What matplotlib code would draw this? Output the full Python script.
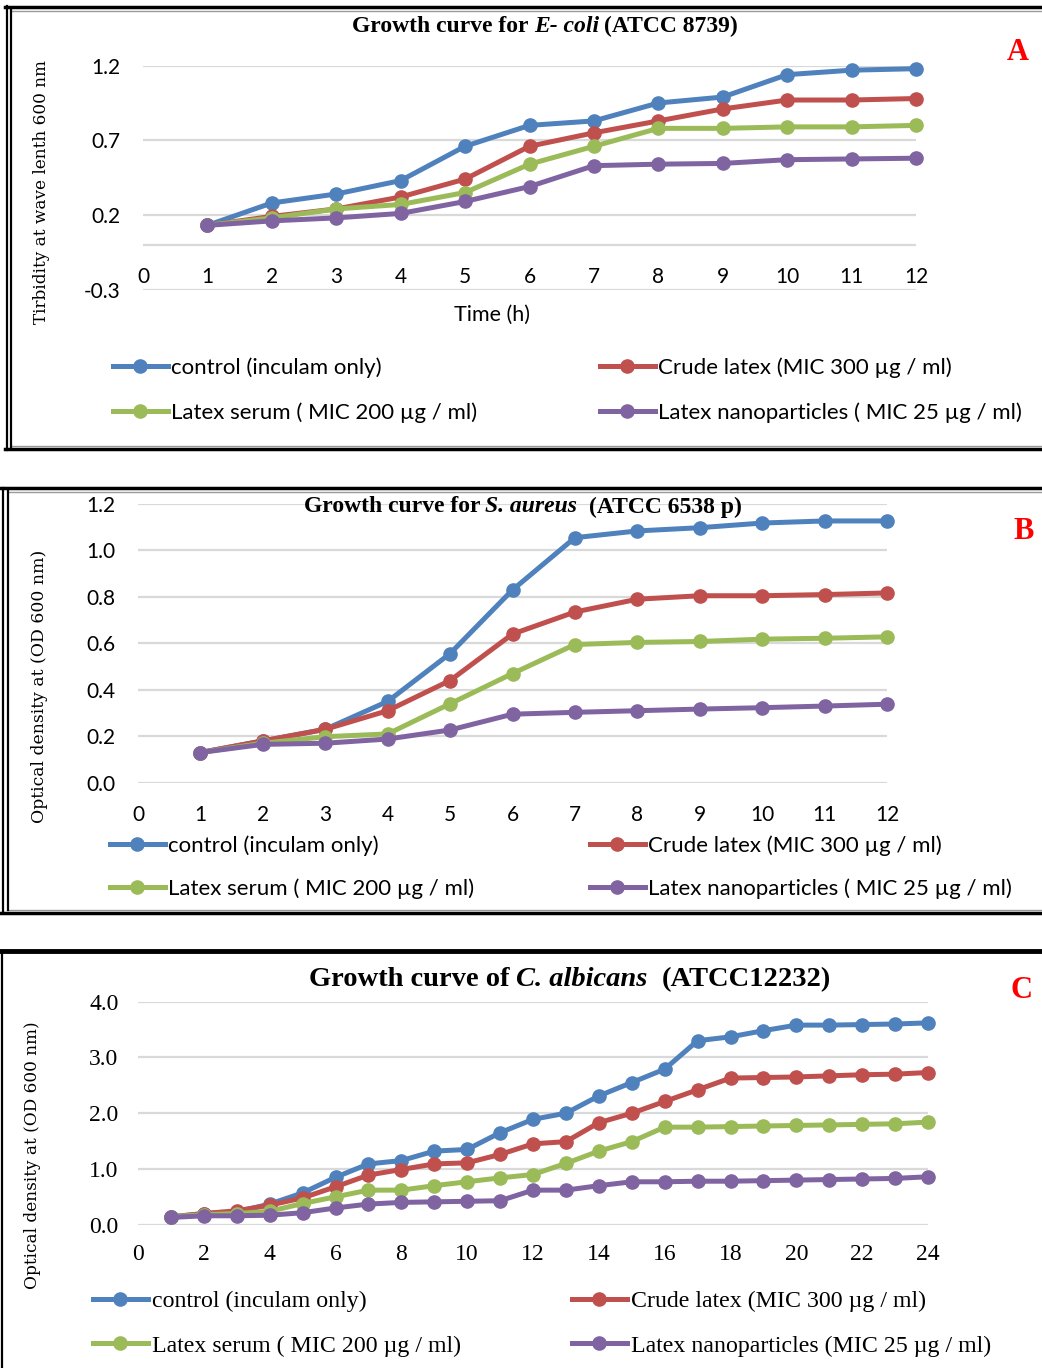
import numpy as np
import matplotlib
matplotlib.use("Agg")
import matplotlib.pyplot as plt
from matplotlib.lines import Line2D

W, H = 1042, 1368

# ---- data ----
labels = ["control (inculam only)", "Crude latex (MIC 300 µg / ml)",
          "Latex serum ( MIC 200 µg / ml)", "Latex nanoparticles ( MIC 25 µg / ml)"]
labels_c = ["control (inculam only)", "Crude latex (MIC 300 µg / ml)",
            "Latex serum ( MIC 200 µg / ml)", "Latex nanoparticles (MIC 25 µg / ml)"]
colors = ["#4f81bd", "#c0504d", "#9bbb59", "#8064a2"]

hours_ab = list(range(1, 13))
ecoli_control = [0.13, 0.28, 0.34, 0.43, 0.66, 0.80, 0.83, 0.95, 0.99, 1.14, 1.17, 1.18]
ecoli_crude = [0.13, 0.19, 0.24, 0.32, 0.44, 0.66, 0.75, 0.83, 0.91, 0.97, 0.97, 0.98]
ecoli_serum = [0.13, 0.18, 0.24, 0.27, 0.35, 0.54, 0.66, 0.78, 0.78, 0.79, 0.79, 0.80]
ecoli_nano = [0.13, 0.16, 0.18, 0.21, 0.29, 0.39, 0.53, 0.54, 0.545, 0.57, 0.575, 0.58]

saureus_control = [0.13, 0.18, 0.23, 0.35, 0.556, 0.83, 1.055, 1.084, 1.098, 1.118, 1.127, 1.127]
saureus_crude = [0.13, 0.18, 0.23, 0.31, 0.44, 0.64, 0.735, 0.79, 0.805, 0.805, 0.81, 0.817]
saureus_serum = [0.13, 0.17, 0.198, 0.21, 0.34, 0.47, 0.595, 0.604, 0.608, 0.618, 0.622, 0.628]
saureus_nano = [0.13, 0.165, 0.17, 0.188, 0.227, 0.295, 0.303, 0.31, 0.317, 0.323, 0.33, 0.338]

hours_c = list(range(1, 25))
calb_control = [0.14, 0.20, 0.23, 0.37, 0.57, 0.85, 1.09, 1.15, 1.32, 1.35, 1.65, 1.89,
                2.00, 2.31, 2.55, 2.79, 3.30, 3.37, 3.48, 3.58, 3.58, 3.59, 3.60, 3.62]
calb_crude = [0.14, 0.20, 0.25, 0.35, 0.48, 0.68, 0.89, 0.99, 1.09, 1.11, 1.26, 1.45,
              1.49, 1.83, 2.00, 2.21, 2.42, 2.63, 2.64, 2.65, 2.67, 2.69, 2.70, 2.73]
calb_serum = [0.14, 0.18, 0.20, 0.24, 0.38, 0.50, 0.62, 0.62, 0.70, 0.77, 0.84, 0.90,
              1.10, 1.32, 1.49, 1.75, 1.75, 1.76, 1.77, 1.78, 1.79, 1.80, 1.81, 1.84]
calb_nano = [0.13, 0.16, 0.16, 0.17, 0.215, 0.30, 0.37, 0.40, 0.41, 0.42, 0.43, 0.62,
             0.62, 0.70, 0.77, 0.77, 0.78, 0.78, 0.79, 0.80, 0.81, 0.82, 0.83, 0.86]

SANS = ["Lato", "DejaVu Sans"]
SERIF = ["Liberation Serif", "DejaVu Serif"]

fig = plt.figure(figsize=(W / 100, H / 100), dpi=100)


def add_ax(x0, y0, x1, y1):
    return fig.add_axes([x0 / W, 1 - y1 / H, (x1 - x0) / W, (y1 - y0) / H])


def fx(x):
    return x / W


def fy(y):
    return 1 - y / H


def hline(x0, x1, y, lw, c="black"):
    fig.add_artist(Line2D([fx(x0), fx(x1)], [fy(y), fy(y)], lw=lw, color=c))


def vline(x, y0, y1, lw, c="black"):
    fig.add_artist(Line2D([fx(x), fx(x)], [fy(y0), fy(y1)], lw=lw, color=c))


def seg_title(xc, y, parts, size, gaps):
    # parts: (text, style); gaps: px between consecutive parts
    r = fig.canvas.get_renderer()
    texts = []
    for s, st in parts:
        t = fig.text(0, fy(y), s, fontsize=size, fontweight="bold", fontstyle=st,
                     family=SERIF, va="center", ha="left")
        texts.append(t)
    ws = [t.get_window_extent(r).width for t in texts]
    total = sum(ws) + sum(gaps)
    x = xc - total / 2
    for i, (t, w) in enumerate(zip(texts, ws)):
        t.set_x(fx(x))
        x += w + (gaps[i] if i < len(gaps) else 0)


def style_ax(ax, font, size, ypad, xpad):
    for s in ax.spines.values():
        s.set_visible(False)
    ax.grid(axis="y", color="#d9d9d9", lw=1.6)
    ax.set_axisbelow(True)
    ax.tick_params(length=0, labelsize=size, pad=ypad, axis="y")
    ax.tick_params(length=0, labelsize=size, pad=xpad, axis="x")
    for lab in ax.get_xticklabels() + ax.get_yticklabels():
        lab.set_family(font)


def draw_series(ax, x, series):
    lines = []
    for ys, c in zip(series, colors):
        ln, = ax.plot(x, ys, color=c, lw=3.6, marker="o", ms=9.5, clip_on=False, zorder=3)
        lines.append(ln)
    return lines


def legends(lines, labs, left1, left2, yc, font, size, hl_px, spacing):
    for idx, left in ((0, left1), (1, left2)):
        sel = [lines[idx], lines[idx + 2]]
        sl = [labs[idx], labs[idx + 2]]
        fig.legend(sel, sl, loc="center left", bbox_to_anchor=(fx(left), fy(yc)),
                   frameon=False, borderpad=0, borderaxespad=0,
                   handlelength=hl_px / 1.389 / size, handletextpad=0.15,
                   labelspacing=spacing, prop={"family": font, "size": size})


# ---------- Panel A ----------
axA = add_ax(143, 65.7, 916, 289.5)
linesA = draw_series(axA, hours_ab, [ecoli_control, ecoli_crude, ecoli_serum, ecoli_nano])
axA.set_xlim(0, 12)
axA.set_ylim(-0.3, 1.2)
axA.set_yticks([-0.3, 0.2, 0.7, 1.2])
axA.set_yticklabels(["-0.3", "0.2", "0.7", "1.2"])
axA.set_xticks(range(0, 13))
axA.spines["bottom"].set_position(("data", 0))
axA.axhline(0, color="#d9d9d9", lw=1.6, zorder=1)
style_ax(axA, SANS, 15, 16, 16)
axA.set_xlabel("Time (h)", family=SANS, fontsize=15.5, labelpad=2)
axA.xaxis.set_label_coords(0.451, -0.07)
seg_title(545, 26, [("Growth curve for", "normal"), ("E- coli", "italic"),
                    ("(ATCC 8739)", "normal")], 17, [5, 5])
fig.text(fx(42), fy(192), "Tirbidity at wave lenth 600 nm", rotation=90,
         family="DejaVu Serif", fontsize=12.2, ha="center", va="center")
fig.text(fx(1018), fy(52), "A", color="red", fontsize=22, fontweight="bold",
         family=SERIF, ha="center", va="center")
legends(linesA, labels, 113, 600, 390, SANS, 16, 55, 1.12)

# ---------- Panel B ----------
axB = add_ax(138, 504, 887, 782.7)
linesB = draw_series(axB, hours_ab, [saureus_control, saureus_crude, saureus_serum, saureus_nano])
axB.set_xlim(0, 12)
axB.set_ylim(0, 1.2)
axB.set_yticks(np.arange(0, 1.21, 0.2))
axB.set_yticklabels(["0.0", "0.2", "0.4", "0.6", "0.8", "1.0", "1.2"])
axB.set_xticks(range(0, 13))
style_ax(axB, SANS, 15, 16, 16)
seg_title(523, 507, [("Growth curve for", "normal"), ("S. aureus", "italic"),
                     ("(ATCC 6538 p)", "normal")], 17, [5, 12])
fig.text(fx(40), fy(686), "Optical density at (OD 600 nm)", rotation=90,
         family="DejaVu Serif", fontsize=12.4, ha="center", va="center")
fig.text(fx(1024), fy(532), "B", color="red", fontsize=22, fontweight="bold",
         family=SERIF, ha="center", va="center")
legends(linesB, labels, 110, 590, 867, SANS, 16, 55, 1.0)

# ---------- Panel C ----------
axC = add_ax(138, 1001.7, 928, 1224.7)
linesC = draw_series(axC, hours_c, [calb_control, calb_crude, calb_serum, calb_nano])
axC.set_xlim(0, 24)
axC.set_ylim(0, 4)
axC.set_yticks(np.arange(0, 4.1, 1.0))
axC.set_yticklabels(["0.0", "1.0", "2.0", "3.0", "4.0"])
axC.set_xticks(range(0, 25, 2))
style_ax(axC, SERIF, 17, 14, 14)
seg_title(570, 980, [("Growth curve of", "normal"), ("C. albicans", "italic"),
                     ("(ATCC12232)", "normal")], 20.5, [6, 14])
fig.text(fx(33), fy(1155), "Optical density at (OD 600 nm)", rotation=90,
         family="DejaVu Serif", fontsize=12.2, ha="center", va="center")
fig.text(fx(1022), fy(990), "C", color="red", fontsize=22, fontweight="bold",
         family=SERIF, ha="center", va="center")
legends(linesC, labels_c, 93, 572, 1323.5, SERIF, 17.2, 55, 0.95)

# ---------- panel frames ----------
# A
hline(5, 1042, 7, 2.5)
hline(11, 1042, 10.5, 1.0, "#999999")
hline(5, 1042, 449, 2.5)
hline(11, 1042, 446, 1.0, "#999999")
vline(6.5, 6, 450, 1.6)
vline(11, 10, 447, 1.6)
# B
hline(1, 1042, 488.5, 2.5)
hline(8, 1042, 491.5, 1.0, "#999999")
hline(1, 1042, 912.5, 2.5)
hline(8, 1042, 909.5, 1.0, "#999999")
vline(2.5, 488, 913, 1.6)
vline(7.5, 491, 910, 1.6)
# C
hline(0, 1042, 951, 3.5)
vline(1.5, 951, 1368, 1.6)

fig.savefig("out.png", dpi=100)
